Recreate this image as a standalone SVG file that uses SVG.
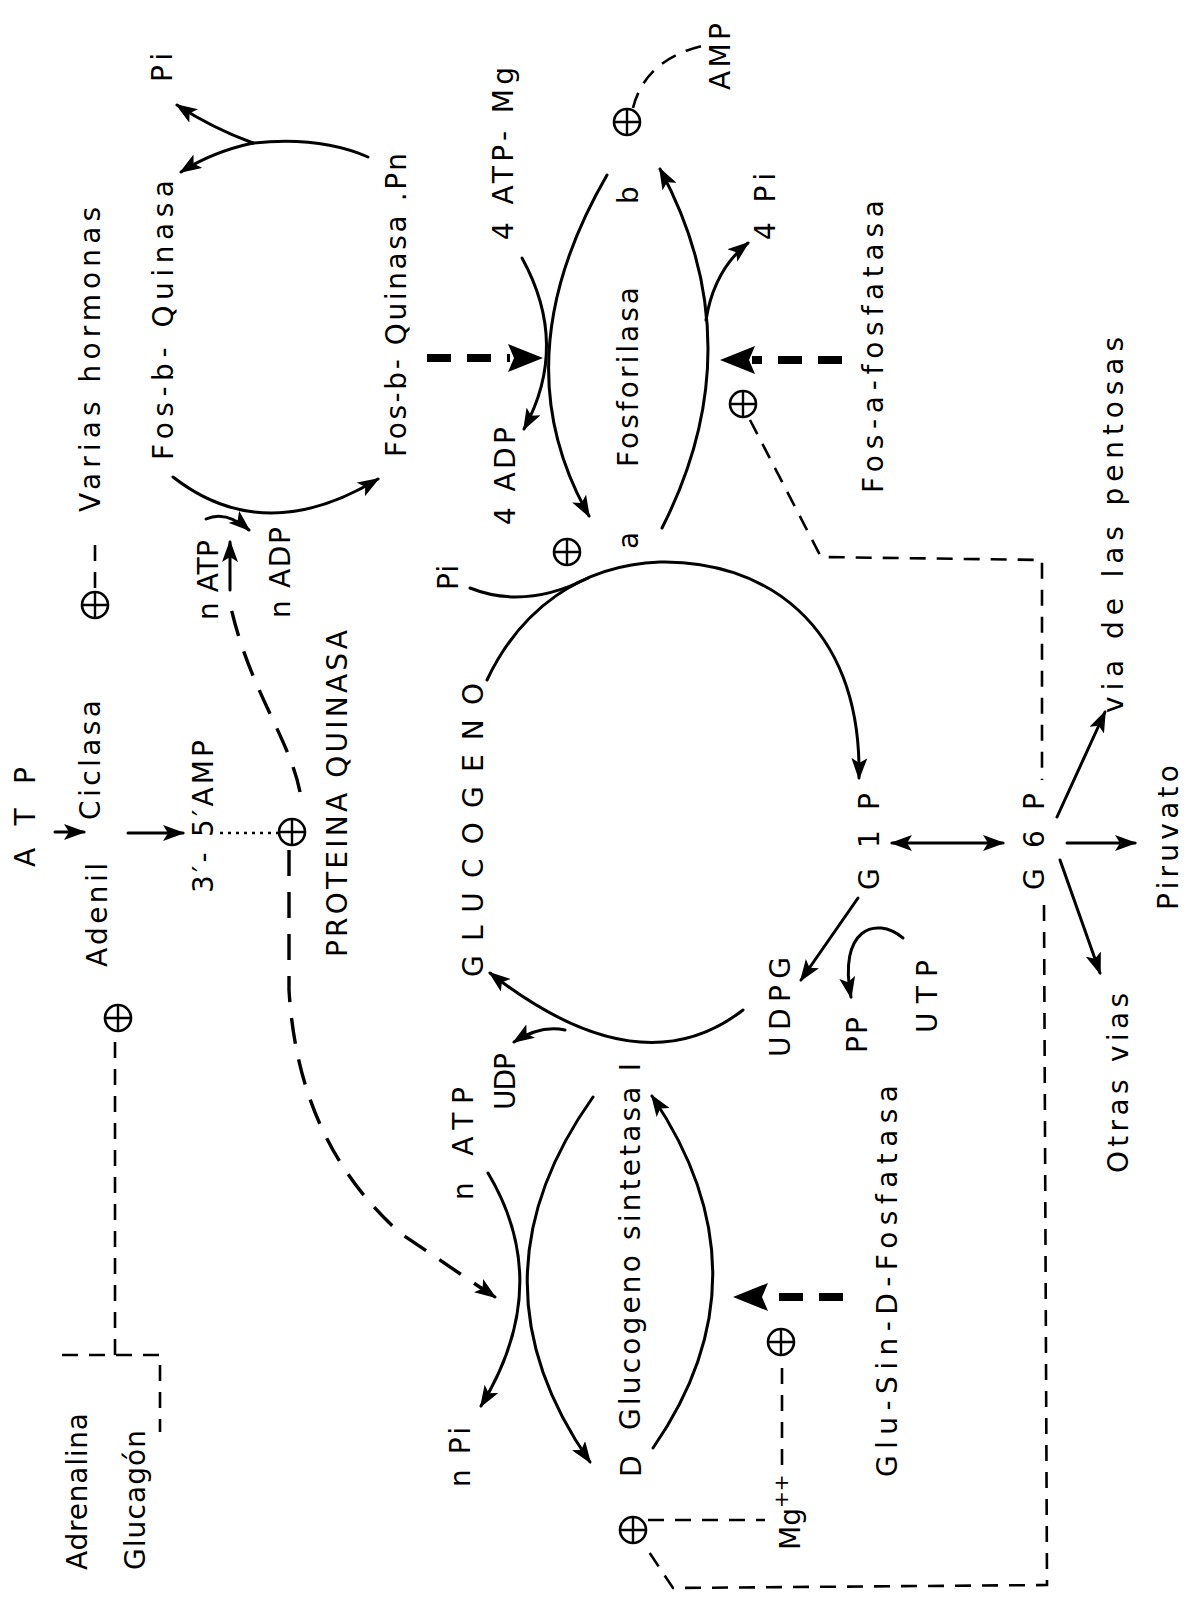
<svg xmlns="http://www.w3.org/2000/svg" width="1196" height="1606" viewBox="0 0 1196 1606">
<style>
text{font-family:"DejaVu Sans","Noto Sans",sans-serif;font-size:28px;fill:#000}
.ln{fill:none;stroke:#000;stroke-width:3;stroke-linecap:round}
.ds{fill:none;stroke:#000;stroke-width:2.6;stroke-dasharray:16 11}
.ds2{fill:none;stroke:#000;stroke-width:3.4;stroke-dasharray:26 16}
.dt{fill:none;stroke:#000;stroke-width:2.6;stroke-dasharray:3 5}
.bd{fill:none;stroke:#000;stroke-width:8;stroke-dasharray:24 16}
.pl circle{fill:#fff;stroke:#000;stroke-width:2.6}
.pl path{stroke:#000;stroke-width:2.4}
</style>
<defs>
<marker id="ah" viewBox="0 0 22 16" refX="20" refY="8" markerWidth="22" markerHeight="16" markerUnits="userSpaceOnUse" orient="auto-start-reverse"><path d="M0,0 L22,8 L0,16 L5,8 z" fill="#000"/></marker>
<g id="plus" class="pl"><circle r="13"/><path d="M-13,0 H13 M0,-13 V13"/></g>
</defs>
<rect width="1196" height="1606" fill="#fff"/>

<g id="connectors">
<!-- Fos-b-Quinasa cycle -->
<path class="ln" d="M173,477 Q264,548 378,479" marker-end="url(#ah)"/>
<path class="ln" d="M368,157 Q320,136 253,143"/>
<path class="ln" d="M253,143 Q212,128 177,105" marker-end="url(#ah)"/>
<path class="ln" d="M253,143 Q212,152 181,172" marker-end="url(#ah)"/>
<path class="ln" d="M206,519 Q226,510 249,530" marker-end="url(#ah)"/>
<path class="ln" d="M230,590 L230,542" marker-end="url(#ah)"/>
<!-- Fosforilasa cycle -->
<path class="ln" d="M522,258 Q570,345 524,429" marker-end="url(#ah)"/>
<path class="ln" d="M607,175 Q500,360 589,516" marker-end="url(#ah)"/>
<path class="ln" d="M662,528 Q755,345 660,169" marker-end="url(#ah)"/>
<path class="ln" d="M706,320 Q714,270 748,243" marker-end="url(#ah)"/>
<!-- glycogen / G1P -->
<path class="ln" d="M487,680 C520,610 580,565 660,562 C760,560 862,620 859,778" marker-end="url(#ah)"/>
<path class="ln" d="M470,588 Q525,610 588,578"/>
<path class="ln" d="M743,1010 Q640,1090 490,973" marker-end="url(#ah)"/>
<path class="ln" d="M565,1030 Q540,1025 514,1042" marker-end="url(#ah)"/>
<path class="ln" d="M858,898 L801,980" marker-end="url(#ah)"/>
<path class="ln" d="M903,938 C875,915 838,930 851,997" marker-end="url(#ah)"/>
<path class="ln" d="M892,843 L1003,843" marker-start="url(#ah)" marker-end="url(#ah)"/>
<path class="ln" d="M1067,843 L1135,843" marker-end="url(#ah)"/>
<path class="ln" d="M1060,860 L1100,973" marker-end="url(#ah)"/>
<path class="ln" d="M1057,817 L1105,712" marker-end="url(#ah)"/>
<!-- Glucogeno sintetasa cycle -->
<path class="ln" d="M593,1097 Q463,1280 590,1462" marker-end="url(#ah)"/>
<path class="ln" d="M488,1173 Q555,1285 481,1406" marker-end="url(#ah)"/>
<path class="ln" d="M653,1448 Q773,1275 652,1096" marker-end="url(#ah)"/>
<!-- cAMP cascade -->
<path class="ln" d="M55,832 L84,832" stroke-width="4" marker-end="url(#ah)"/>
<path class="ln" d="M128,833 L183,833" stroke-width="4" marker-end="url(#ah)"/>
<path class="dt" d="M220,833 L278,833"/>
<path class="ds" d="M95,588 L95,540"/>
<path class="ds2" d="M300,792 C290,740 250,690 231,608"/>
<path class="ds2" d="M289,850 L289,990 C295,1090 330,1170 400,1233 L484,1290"/>
<path class="ln" d="M482,1288 L495,1297" marker-end="url(#ah)"/>
<path class="ds" d="M633,108 Q645,60 702,46"/>
<path class="ds" d="M750,420 L821,557 L1042,560 L1042,780"/>
<path class="ds" d="M1044,905 L1047,1585 L673,1588 L645,1546"/>
<path class="ds" d="M648,1520 L765,1520"/>
<path class="ds" d="M782,1465 L782,1358"/>
<path class="ds" d="M62,1355 L160,1355 L160,1432"/>
<path class="ds" d="M115,1355 L115,1033"/>
<!-- thick dashed effector arrows -->
<path class="bd" d="M427,358 L510,358"/>
<polygon points="543,358 508,344 514,358 508,372" fill="#000"/>
<path class="bd" d="M842,360 L752,360"/>
<polygon points="720,360 755,346 749,360 755,374" fill="#000"/>
<path class="bd" d="M843,1297 L765,1297"/>
<polygon points="733,1297 768,1283 762,1297 768,1311" fill="#000"/>
</g>

<g id="plus-signs">
<use href="#plus" x="95" y="605"/>
<use href="#plus" x="627" y="122"/>
<use href="#plus" x="743" y="404"/>
<use href="#plus" x="567" y="552"/>
<use href="#plus" x="292" y="832"/>
<use href="#plus" x="118" y="1018"/>
<use href="#plus" x="781" y="1342"/>
<use href="#plus" x="633" y="1530"/>
</g>

<g id="n-pi-top"><text x="172" y="82" transform="rotate(-90 172 82)" textLength="29">Pi</text></g>
<g id="n-varias"><text x="100" y="512" transform="rotate(-90 100 512)" textLength="305">Varias hormonas</text></g>
<g id="n-fosbq"><text x="173" y="460" transform="rotate(-90 173 460)" font-size="30" textLength="280">Fos-b- Quinasa</text></g>
<g id="n-fosbqpn"><text x="406" y="457" transform="rotate(-90 406 457)" font-size="30" textLength="304">Fos-b- Quinasa .Pn</text></g>
<g id="n-4atpmg"><text x="513" y="240" transform="rotate(-90 513 240)" textLength="173">4 ATP- Mg</text></g>
<g id="n-4adp"><text x="515" y="525" transform="rotate(-90 515 525)" font-size="26" textLength="98">4 ADP</text></g>
<g id="n-fosforilasa"><text x="638" y="467" transform="rotate(-90 638 467)" textLength="180">Fosforilasa</text></g>
<g id="n-b"><text x="638" y="204" transform="rotate(-90 638 204)">b</text></g>
<g id="n-a"><text x="638" y="549" transform="rotate(-90 638 549)">a</text></g>
<g id="n-amp"><text x="730" y="90" transform="rotate(-90 730 90)" textLength="67">AMP</text></g>
<g id="n-4pi"><text x="775" y="240" transform="rotate(-90 775 240)" textLength="67">4 Pi</text></g>
<g id="n-fosafos"><text x="883" y="493" transform="rotate(-90 883 493)" textLength="293">Fos-a-fosfatasa</text></g>
<g id="n-pentosas"><text x="1123" y="713" transform="rotate(-90 1123 713)" textLength="376">via de las pentosas</text></g>
<g id="n-piruvato"><text x="1178" y="910" transform="rotate(-90 1178 910)" textLength="145">Piruvato</text></g>
<g id="n-otras"><text x="1128" y="1173" transform="rotate(-90 1128 1173)" textLength="180">Otras vias</text></g>
<g id="n-g6p"><text x="1044" y="890" transform="rotate(-90 1044 890)" font-size="38" textLength="97">G6P</text></g>
<g id="n-g1p"><text x="879" y="890" transform="rotate(-90 879 890)" font-size="38" textLength="97">G1P</text></g>
<g id="n-utp"><text x="937" y="1033" transform="rotate(-90 937 1033)" textLength="73">UTP</text></g>
<g id="n-pp"><text x="867" y="1053" transform="rotate(-90 867 1053)" textLength="36">PP</text></g>
<g id="n-udpg"><text x="790" y="1057" transform="rotate(-90 790 1057)" textLength="100">UDPG</text></g>
<g id="n-glucogeno"><text x="483" y="977" transform="rotate(-90 483 977)" font-size="50" textLength="294">GLUCOGENO</text></g>
<g id="n-pi-mid"><text x="458" y="590" transform="rotate(-90 458 590)" font-size="26" textLength="25">Pi</text></g>
<g id="n-natp-top"><text x="218" y="620" transform="rotate(-90 218 620)" font-size="26" textLength="80">n ATP</text></g>
<g id="n-nadp"><text x="290" y="618" transform="rotate(-90 290 618)" font-size="26" textLength="91">n ADP</text></g>
<g id="n-ciclasa"><text x="100" y="820" transform="rotate(-90 100 820)" textLength="120">Ciclasa</text></g>
<g id="n-adenil"><text x="107" y="967" transform="rotate(-90 107 967)" textLength="104">Adenil</text></g>
<g id="n-atp"><text x="35" y="867" transform="rotate(-90 35 867)" font-size="25" textLength="100">ATP</text></g>
<g id="n-camp"><text x="213" y="893" transform="rotate(-90 213 893)" textLength="153">3′- 5′AMP</text></g>
<g id="n-proteina"><text x="347" y="957" transform="rotate(-90 347 957)" font-size="30" textLength="327">PROTEINA QUINASA</text></g>
<g id="n-natp-bot"><text x="473" y="1200" transform="rotate(-90 473 1200)" textLength="113">n ATP</text></g>
<g id="n-udp"><text x="515" y="1110" transform="rotate(-90 515 1110)" font-size="26" textLength="57">UDP</text></g>
<g id="n-npi"><text x="470" y="1487" transform="rotate(-90 470 1487)" font-size="26" textLength="60">n Pi</text></g>
<g id="n-d"><text x="641" y="1477" transform="rotate(-90 641 1477)">D</text></g>
<g id="n-gsint"><text x="640" y="1430" transform="rotate(-90 640 1430)" textLength="367">Glucogeno sintetasa I</text></g>
<g id="n-glusin"><text x="897" y="1477" transform="rotate(-90 897 1477)" textLength="392">Glu-Sin-D-Fosfatasa</text></g>
<g id="n-mg"><text x="800" y="1550" transform="rotate(-90 800 1550)">Mg<tspan dy="-12" font-size="20">++</tspan></text></g>
<g id="n-adrenalina"><text x="87" y="1570" transform="rotate(-90 87 1570)" textLength="157">Adrenalina</text></g>
<g id="n-glucagon"><text x="145" y="1570" transform="rotate(-90 145 1570)" textLength="140">Glucagón</text></g>
</svg>
